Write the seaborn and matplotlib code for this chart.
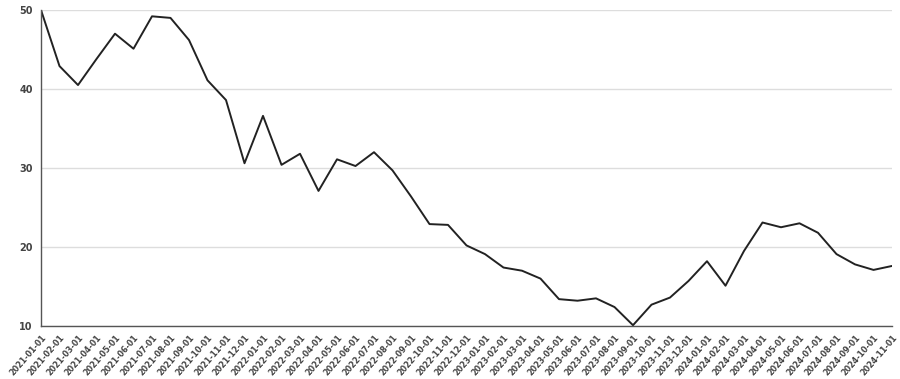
import matplotlib
matplotlib.use("Agg")
import matplotlib.pyplot as plt
import seaborn as sns
import pandas as pd

dates = pd.date_range("2021-01-01", "2024-11-01", freq="MS").strftime("%Y-%m-%d").tolist()
values = [50.0, 42.9, 40.5, 43.8, 47.0, 45.1, 49.2, 49.0, 46.2, 41.1,
          38.6, 30.6, 36.6, 30.4, 31.8, 27.1, 31.1, 30.25, 32.0, 29.7,
          26.4, 22.9, 22.8, 20.2, 19.1, 17.4, 17.0, 16.0, 13.4, 13.2,
          13.5, 12.4, 10.1, 12.7, 13.6, 15.7, 18.2, 15.1, 19.5, 23.1,
          22.5, 23.0, 21.8, 19.1, 17.8, 17.1, 17.6]
y_ticks = [10, 20, 30, 40, 50]

df = pd.DataFrame({"idx": range(len(dates)), "date": dates, "value": values})

sns.set_style("white")
fig = plt.figure(figsize=(9, 3.79), dpi=100)
ax = fig.add_axes([41/900, 1-326/379, (892-41)/900, (326-10)/379])

sns.lineplot(data=df, x="idx", y="value", ax=ax, color="#222222", linewidth=1.4)

ax.set_xlim(0, len(dates)-1)
ax.set_ylim(10, 50)
ax.set_yticks(y_ticks)
ax.set_yticklabels([str(v) for v in y_ticks], fontsize=7, fontweight="bold", color="#444444")
ax.set_xticks(df["idx"])
ax.set_xticklabels(dates, rotation=49, ha="right", rotation_mode="anchor",
                   fontsize=5.8, fontweight="bold", color="#444444")
ax.tick_params(axis="x", length=3.5, width=0.8, color="#555555", pad=1.5)
ax.tick_params(axis="y", length=0, pad=6)
ax.grid(axis="y", color="#dddddd", linewidth=1)
ax.grid(axis="x", visible=False)
for s in ["top", "right"]:
    ax.spines[s].set_visible(False)
for s in ["left", "bottom"]:
    ax.spines[s].set_color("#555555")
    ax.spines[s].set_linewidth(1)
ax.set_xlabel("")
ax.set_ylabel("")

fig.savefig("out.png", dpi=100)
